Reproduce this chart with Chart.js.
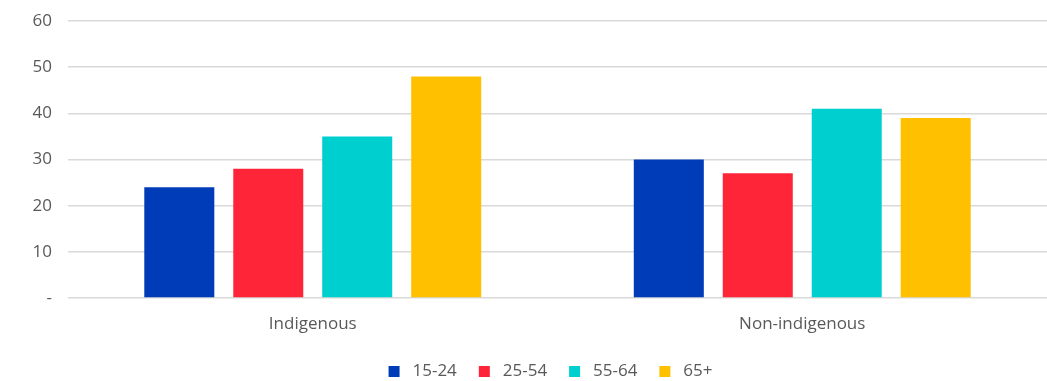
<!DOCTYPE html>
<html>
<head>
<meta charset="utf-8">
<script src="https://cdn.jsdelivr.net/npm/chart.js@4"></script>
<style>
  html, body { margin: 0; padding: 0; background: #fff; }
  #wrap { width: 1047px; height: 381px; position: relative; }
</style>
</head>
<body>
<div id="wrap"><canvas id="chart"></canvas></div>
<script>
  var groups = ['Indigenous', 'Non-indigenous'];
  var ageBands = ['15-24', '25-54', '55-64', '65+'];
  var band15to24 = [24, 30];
  var band25to54 = [28, 27];
  var band55to64 = [35, 41];
  var band65plus = [48, 39];
  var yTicks = [0, 10, 20, 30, 40, 50, 60];

  var colors = ['#003bb8', '#ff2538', '#00cfcf', '#ffc000'];
  var series = [band15to24, band25to54, band55to64, band65plus];
  var textGrey = '#595959';
  var font = { family: '"Open Sans", "Noto Sans", sans-serif', size: 17 };

  var datasets = series.map(function (vals, i) {
    return {
      label: ageBands[i],
      data: vals,
      backgroundColor: colors[i],
      borderWidth: 0,
      barPercentage: 0.787,
      categoryPercentage: 0.727
    };
  });

  // nudge the legend row a little left of the plot centre
  var legendShift = {
    id: 'legendShift',
    afterLayout: function (chart) {
      if (chart.legend) {
        chart.legend.left -= 7;
        chart.legend.right -= 7;
      }
    }
  };

  new Chart(document.getElementById('chart'), {
    type: 'bar',
    data: { labels: groups, datasets: datasets },
    plugins: [legendShift],
    options: {
      responsive: true,
      maintainAspectRatio: false,
      animation: false,
      layout: { padding: { top: 21, right: 0, left: 0, bottom: -9 } },
      plugins: {
        tooltip: { enabled: false },
        legend: {
          position: 'bottom',
          fullSize: false,
          labels: {
            color: textGrey,
            font: font,
            boxWidth: 11,
            boxHeight: 11,
            padding: 22,
            generateLabels: function (chart) {
              return chart.data.datasets.map(function (ds, i) {
                return {
                  text: ' ' + ds.label,
                  fillStyle: ds.backgroundColor,
                  strokeStyle: ds.backgroundColor,
                  lineWidth: 0,
                  fontColor: textGrey,
                  datasetIndex: i
                };
              });
            }
          }
        }
      },
      scales: {
        x: {
          afterFit: function (scale) { scale.height = 43; },
          grid: { display: false, drawTicks: false },
          border: { display: false },
          ticks: { color: textGrey, font: font, padding: 16 }
        },
        y: {
          min: 0,
          max: 60,
          afterBuildTicks: function (scale) {
            scale.ticks = yTicks.map(function (v) { return { value: v }; });
          },
          afterFit: function (scale) {
            scale.width = 68;
            scale.paddingTop = 0;
            scale.paddingBottom = 0;
          },
          grid: { color: '#d9d9d9', lineWidth: 1.5, drawTicks: false },
          border: { display: false },
          ticks: {
            color: textGrey,
            font: font,
            padding: 16,
            callback: function (v) { return v === 0 ? '-' : v; }
          }
        }
      }
    }
  });
</script>
</body>
</html>
